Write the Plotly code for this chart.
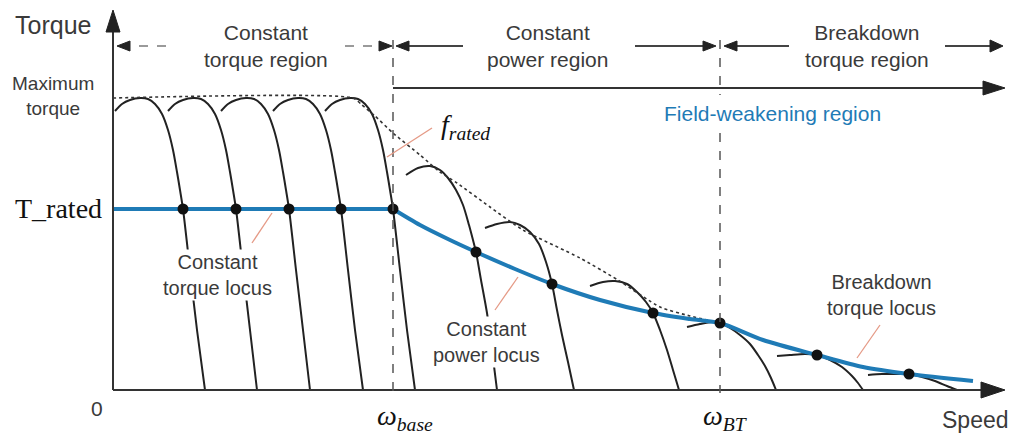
import plotly.graph_objects as go

# ---------------- data (speed / torque in arbitrary schematic units) ----------------
W_BASE = 280
W_BT = 607
T_RATED = 181
T_MAX = 292

# constant-torque region: five torque-speed curves (shared torque samples)
ct_torque = [279, 286, 290, 292, 291, 286, 276, 260, 240, 218, 200, 181, 120, 60, 0]
ct_speed_1 = [2, 9, 17, 27, 35, 42, 49, 55, 60, 64, 67, 70, 77, 84, 92]
ct_speed_2 = [55, 62, 70, 80, 88, 95, 102, 108, 113, 117, 120, 123, 130, 137, 144]
ct_speed_3 = [108, 115, 123, 133, 141, 148, 155, 161, 166, 170, 173, 176, 183, 190, 197]
ct_speed_4 = [160, 167, 175, 185, 193, 200, 207, 213, 218, 222, 225, 228, 235, 242, 250]
ct_speed_5 = [212, 219, 227, 237, 245, 252, 259, 265, 270, 274, 277, 280, 287, 294, 302]

# field-weakening curves
fw_speed_6 = [293, 305, 317, 327, 335, 343, 350, 356, 360, 363, 368, 374, 379, 384]
fw_torque_6 = [215, 222, 224, 220, 212, 200, 185, 165, 150, 138, 110, 77, 40, 0]
fw_speed_7 = [372, 384, 397, 407, 417, 426, 433, 439, 444, 449, 455, 461]
fw_torque_7 = [162, 166, 168, 165, 158, 146, 128, 106, 80, 55, 28, 0]
fw_speed_8 = [477, 490, 502, 514, 524, 533, 540, 547, 554, 560, 566]
fw_torque_8 = [104, 108, 109, 106, 98, 88, 77, 60, 40, 20, 0]
bd_speed_9 = [574, 587, 599, 607, 617, 627, 637, 645, 652, 658, 663]
bd_torque_9 = [63, 66, 68, 67, 62, 55, 46, 35, 24, 12, 0]
bd_speed_10 = [664, 677, 692, 704, 717, 729, 739, 745, 750]
bd_torque_10 = [34, 35, 36, 35, 30, 23, 14, 7, 0]
bd_speed_11 = [755, 769, 783, 796, 809, 822, 834, 844]
bd_torque_11 = [15, 16, 16, 16, 13, 9, 4, 0]

# loci
ct_locus_speed = [0, 280]
ct_locus_torque = [181, 181]
cp_locus_speed = [280, 307, 337, 363, 402, 439, 487, 540, 577, 607, 650, 704, 750, 796, 860]
cp_locus_torque = [181, 165, 150, 138, 121, 106, 90, 77, 71, 67, 50, 35, 23, 16, 9]

# operating points
op_speed = [70, 123, 176, 228, 280, 363, 439, 540, 607, 704, 796]
op_torque = [181, 181, 181, 181, 181, 138, 106, 77, 67, 35, 16]

# maximum-torque envelope
env_speed = [0, 240, 249, 262, 280, 307, 327, 344, 377, 410, 467, 505, 547, 577, 607]
env_torque = [292, 292, 285, 274, 257, 235, 218, 207, 183, 160, 132, 110, 83, 74, 67]

# labels
y_tick_labels = ["0", "T_rated", "Maximum<br>torque"]
region_labels = ["Constant<br>torque region", "Constant<br>power region", "Breakdown<br>torque region"]
locus_labels = ["Constant<br>torque locus", "Constant<br>power locus", "Breakdown<br>torque locus"]

# ---------------- styling ----------------
INK = "#222222"
TXT = "#3a3a3a"
BLUE = "#1f7bb6"
SALMON = "#e59a86"
SANS = "Liberation Sans, Arial, sans-serif"
SERIF = "Liberation Serif, Times New Roman, serif"

fig = go.Figure()

curves = [
    (ct_speed_1, ct_torque), (ct_speed_2, ct_torque), (ct_speed_3, ct_torque),
    (ct_speed_4, ct_torque), (ct_speed_5, ct_torque),
    (fw_speed_6, fw_torque_6), (fw_speed_7, fw_torque_7), (fw_speed_8, fw_torque_8),
    (bd_speed_9, bd_torque_9), (bd_speed_10, bd_torque_10), (bd_speed_11, bd_torque_11),
]
for xs, ys in curves:
    fig.add_trace(go.Scatter(x=xs, y=ys, mode="lines",
                             line=dict(color=INK, width=2, shape="spline", smoothing=0.8),
                             hoverinfo="skip"))

fig.add_trace(go.Scatter(x=env_speed, y=env_torque, mode="lines",
                         line=dict(color="#333333", width=1.6, dash="dot", shape="spline", smoothing=0.6),
                         hoverinfo="skip"))

fig.add_trace(go.Scatter(x=ct_locus_speed, y=ct_locus_torque, mode="lines",
                         line=dict(color=BLUE, width=4), hoverinfo="skip"))
fig.add_trace(go.Scatter(x=cp_locus_speed, y=cp_locus_torque, mode="lines",
                         line=dict(color=BLUE, width=4, shape="spline", smoothing=0.8),
                         hoverinfo="skip"))
fig.add_trace(go.Scatter(x=op_speed, y=op_torque, mode="markers",
                         marker=dict(color="#111111", size=11), hoverinfo="skip"))

shapes = []


def seg(x0, y0, x1, y1, color=TXT, width=2, dash="solid"):
    shapes.append(dict(type="line", xref="x", yref="y", x0=x0, y0=y0, x1=x1, y1=y1,
                       line=dict(color=color, width=width, dash=dash)))


def head(x, y, direction, length=12, half=5, color=INK):
    if direction == "right":
        p = f"M0,0 L{-length},{half} L{-length},{-half} Z"
    elif direction == "left":
        p = f"M0,0 L{length},{half} L{length},{-half} Z"
    else:
        p = f"M0,0 L{-half},{-length} L{half},{-length} Z"
    shapes.append(dict(type="path", xref="x", yref="y", xsizemode="pixel", ysizemode="pixel",
                       xanchor=x, yanchor=y, path=p, fillcolor=color,
                       line=dict(color=color, width=1)))


# axes
seg(0, 0, 0, 362, color="#333333", width=2)
head(0, 380, "up", length=22, half=7)
seg(0, 0, 872, 0, color="#333333", width=2)
head(892, 0, "right", length=24, half=8)

# vertical dashed markers
seg(W_BASE, 350, W_BASE, -3, color="#555555", width=1.5, dash="dash")
seg(W_BT, 350, W_BT, 295, color="#555555", width=1.5, dash="dash")
seg(W_BT, 257, W_BT, -3, color="#555555", width=1.5, dash="dash")

# region arrows (top row)
RY = 344
seg(8, RY, 57, RY, color="#9a9a9a", width=2, dash="dash")
head(4, RY, "left", length=13, half=5)
seg(232, RY, 270, RY, color="#9a9a9a", width=2, dash="dash")
head(279, RY, "right", length=13, half=5)
seg(290, RY, 350, RY, color="#444444", width=2)
head(283, RY, "left", length=13, half=5)
seg(522, RY, 596, RY, color="#444444", width=2)
head(603, RY, "right", length=13, half=5)
seg(620, RY, 676, RY, color="#444444", width=2)
head(611, RY, "left", length=13, half=5)
seg(832, RY, 880, RY, color="#444444", width=2)
head(890, RY, "right", length=13, half=6)

# field weakening arrow
seg(W_BASE, 302, 872, 302, color="#333333", width=2)
head(892, 302, "right", length=22, half=7)

# leader lines
seg(139, 147, 159, 177, color=SALMON, width=1.3)
seg(274, 233, 319, 262, color=SALMON, width=1.3)
seg(382, 80, 405, 113, color=SALMON, width=1.3)
seg(744, 32, 767, 65, color=SALMON, width=1.3)

ann = []


def label(x, y, text, size=20, color=TXT, family=SANS, bg=None, xanchor="center"):
    d = dict(x=x, y=y, xref="x", yref="y", text=text, showarrow=False,
             font=dict(size=size, color=color, family=family), xanchor=xanchor, yanchor="middle")
    if bg:
        d["bgcolor"] = bg
    ann.append(d)


label(-60, 365, "Torque", size=25)
label(-60, 294, y_tick_labels[2], size=19)
label(-55, 182, y_tick_labels[1], size=28, color="#111111", family=SERIF)
label(-16, -18, y_tick_labels[0], size=21)
label(292, -27, "<i>ω</i><sub><i>base</i></sub>", size=28, color="#111111", family=SERIF)
label(612, -27, "<i>ω</i><sub><i>BT</i></sub>", size=28, color="#111111", family=SERIF)
label(862, -30, "Speed", size=23)
label(352, 264, "<i>f</i><sub><i>rated</i></sub>", size=28, color="#111111", family=SERIF)

label(153, RY, region_labels[0], size=21)
label(434, RY, region_labels[1], size=21)
label(754, RY, region_labels[2], size=21)
label(659, 277, "Field-weakening region", size=21, color=BLUE)

label(104, 115, locus_labels[0], size=20, bg="white")
label(373, 48, locus_labels[1], size=20, bg="white")
label(768, 95, locus_labels[2], size=20)

fig.update_layout(
    width=1015, height=437,
    margin=dict(l=0, r=0, t=0, b=0),
    paper_bgcolor="white", plot_bgcolor="white",
    showlegend=False,
    xaxis=dict(range=[-113, 902], visible=False, fixedrange=True),
    yaxis=dict(range=[-47, 390], visible=False, fixedrange=True),
    shapes=shapes,
    annotations=ann,
)

fig.write_html("out.html")
